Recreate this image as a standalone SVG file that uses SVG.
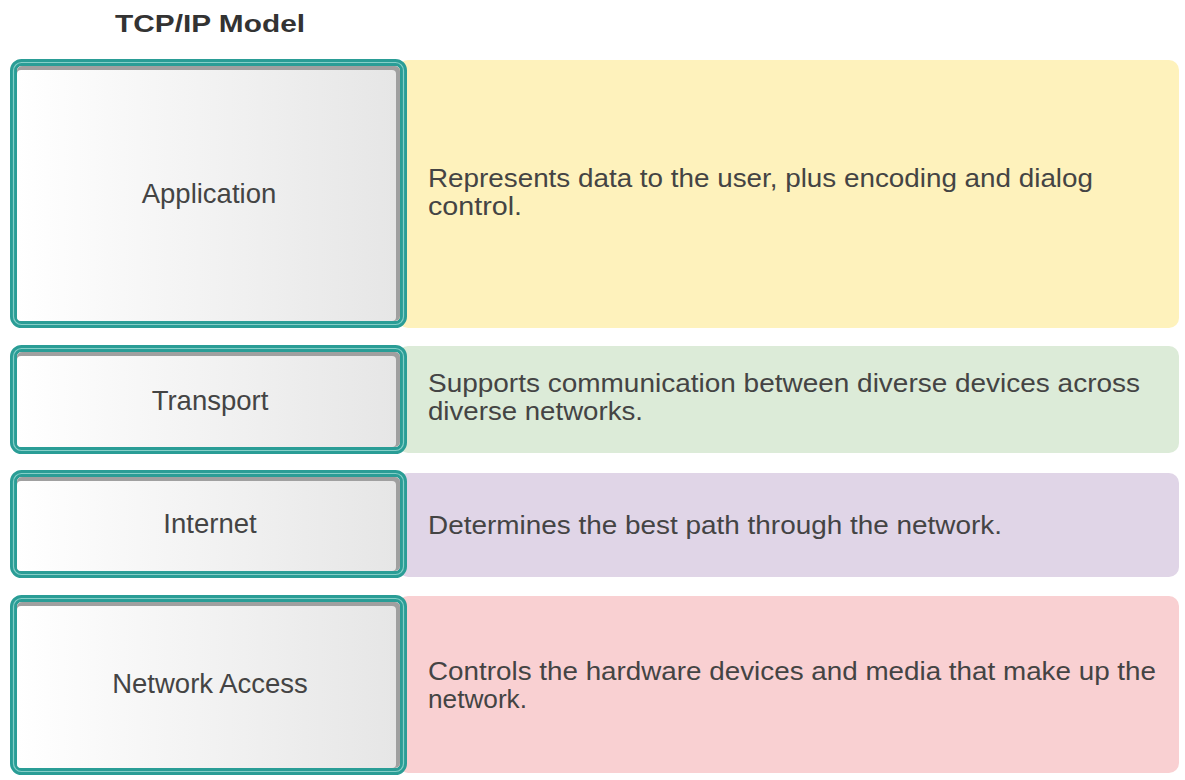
<svg xmlns="http://www.w3.org/2000/svg" width="1185" height="780" viewBox="0 0 1185 780">
<defs>
<linearGradient id="face" x1="0" y1="0" x2="1" y2="0">
<stop offset="0" stop-color="#ffffff"/>
<stop offset="1" stop-color="#e6e6e6"/>
</linearGradient>
</defs>
<style>
.outer{fill:none;stroke:#2a9d96;stroke-width:7}
.mid{fill:none;stroke:#86cfc8;stroke-width:1.2}
.shade{fill:#a0a0a0}
.face{fill:url(#face)}
.lbl{font-family:"Liberation Sans",Arial,sans-serif;font-size:27.5px;fill:#444;text-anchor:middle}
.desc{font-family:"Liberation Sans",Arial,sans-serif;font-size:26px;fill:#444}
.title{font-family:"Liberation Sans",Arial,sans-serif;font-size:24px;font-weight:bold;fill:#333}
</style>
<rect width="1185" height="780" fill="#ffffff"/>
<text class="title" x="115" y="32" textLength="190" lengthAdjust="spacingAndGlyphs">TCP/IP Model</text>
<g id="application">
<rect x="398" y="60" width="781" height="268" rx="10" fill="#fef2bc"/>
<rect class="outer" x="13.5" y="62.5" width="390" height="262" rx="8"/>
<rect class="mid" x="13.5" y="62.5" width="390" height="262" rx="8"/>
<rect class="shade" x="17" y="66" width="383" height="255" rx="5"/>
<rect class="face" x="17" y="70" width="379" height="251" rx="4"/>
<text class="lbl" x="209" y="203">Application</text>
<text class="desc" x="428" y="187" textLength="665" lengthAdjust="spacingAndGlyphs">Represents data to the user, plus encoding and dialog</text>
<text class="desc" x="428" y="215" textLength="94" lengthAdjust="spacingAndGlyphs">control.</text>
</g>
<g id="transport">
<rect x="398" y="346" width="781" height="107" rx="10" fill="#dcebd8"/>
<rect class="outer" x="13.5" y="348.5" width="390" height="102" rx="8"/>
<rect class="mid" x="13.5" y="348.5" width="390" height="102" rx="8"/>
<rect class="shade" x="17" y="352" width="383" height="95" rx="5"/>
<rect class="face" x="17" y="356" width="379" height="91" rx="4"/>
<text class="lbl" x="210" y="410">Transport</text>
<text class="desc" x="428" y="392" textLength="712" lengthAdjust="spacingAndGlyphs">Supports communication between diverse devices across</text>
<text class="desc" x="428" y="420" textLength="215" lengthAdjust="spacingAndGlyphs">diverse networks.</text>
</g>
<g id="internet">
<rect x="398" y="473" width="781" height="104" rx="10" fill="#e0d5e7"/>
<rect class="outer" x="13.5" y="473.5" width="390" height="101" rx="8"/>
<rect class="mid" x="13.5" y="473.5" width="390" height="101" rx="8"/>
<rect class="shade" x="17" y="477" width="383" height="94" rx="5"/>
<rect class="face" x="17" y="481" width="379" height="90" rx="4"/>
<text class="lbl" x="210" y="533">Internet</text>
<text class="desc" x="428" y="534" textLength="574" lengthAdjust="spacingAndGlyphs">Determines the best path through the network.</text>
</g>
<g id="network-access">
<rect x="398" y="596" width="781" height="177" rx="10" fill="#f9d0d2"/>
<rect class="outer" x="13.5" y="598.5" width="390" height="173" rx="8"/>
<rect class="mid" x="13.5" y="598.5" width="390" height="173" rx="8"/>
<rect class="shade" x="17" y="602" width="383" height="166" rx="5"/>
<rect class="face" x="17" y="606" width="379" height="162" rx="4"/>
<text class="lbl" x="210" y="693">Network Access</text>
<text class="desc" x="428" y="680" textLength="728" lengthAdjust="spacingAndGlyphs">Controls the hardware devices and media that make up the</text>
<text class="desc" x="428" y="708" textLength="99" lengthAdjust="spacingAndGlyphs">network.</text>
</g>
<g id="connectors"/>
</svg>
